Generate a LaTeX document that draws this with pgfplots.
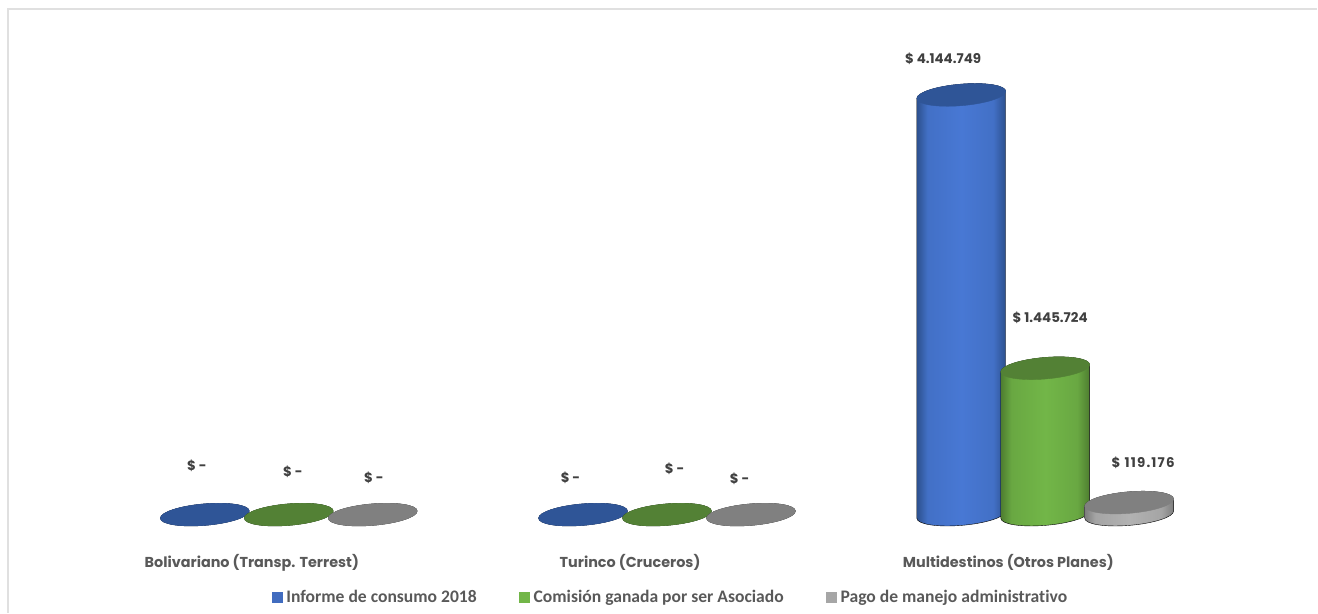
\documentclass[border=0pt]{standalone}
\usepackage{fontspec}
\usepackage{pgfplots}
\pgfplotsset{compat=1.18}
\newfontfamily\geofont{Poppins}
\newfontfamily\legfont{Carlito}[Ligatures=NoCommon]

\definecolor{blueedge}{RGB}{44,80,142}
\definecolor{bluemid}{RGB}{72,120,212}
\definecolor{bluetop}{RGB}{47,85,151}
\definecolor{greenedge}{RGB}{78,125,48}
\definecolor{greenmid}{RGB}{114,182,72}
\definecolor{greentop}{RGB}{83,129,53}
\definecolor{grayedge}{RGB}{125,125,125}
\definecolor{graymid}{RGB}{178,178,178}
\definecolor{graytop}{RGB}{128,128,128}
\definecolor{labeltext}{RGB}{64,64,64}
\definecolor{cattext}{RGB}{89,89,89}

% body shadings: dark only near the rims
\pgfdeclarehorizontalshading{cylblue}{100bp}{color(0bp)=(blueedge); color(25bp)=(blueedge);
  color(31bp)=(bluemid!80!blueedge); color(50bp)=(bluemid); color(68bp)=(bluemid!80!blueedge);
  color(75bp)=(blueedge); color(100bp)=(blueedge)}
\pgfdeclarehorizontalshading{cylgreen}{100bp}{color(0bp)=(greenedge); color(25bp)=(greenedge);
  color(31bp)=(greenmid!75!greenedge); color(50bp)=(greenmid); color(68bp)=(greenmid!75!greenedge);
  color(75bp)=(greenedge); color(100bp)=(greenedge)}
\pgfdeclarehorizontalshading{cylgray}{100bp}{color(0bp)=(grayedge); color(25bp)=(grayedge);
  color(31bp)=(graymid!75!grayedge); color(50bp)=(graymid); color(68bp)=(graymid!75!grayedge);
  color(75bp)=(grayedge); color(100bp)=(grayedge)}

% one cylinder, drawn from its data point (top centre) downwards
\newcommand{\cyl}[2]{%
  \begingroup
  \pgftransformcm{1}{0.08}{0}{1}{\pgfpointorigin}%
  \shade[shading=#1]
    (-44.5pt,0pt) -- (-44.5pt,-\cylh pt)
    arc[start angle=180,end angle=360,x radius=44.5pt,y radius=10.8pt]
    -- (44.5pt,0pt)
    arc[start angle=0,end angle=180,x radius=44.5pt,y radius=10.8pt] -- cycle;
  \fill[#2] (0pt,0pt) ellipse[x radius=44.5pt,y radius=10.8pt];
  \endgroup}

\begin{document}
\begin{tikzpicture}
\begin{axis}[
    scale only axis,
    width=1318pt, height=613pt,
    xmin=-0.7635, xmax=2.7186,
    ymin=-967064, ymax=5082020,
    clip=false,
    axis line style={draw=none},
    major tick style={draw=none},
    ytick=\empty,
    xtick={0,1,2},
    xticklabels={Bolivariano (Transp. Terrest),Turinco (Cruceros),Multidestinos (Otros Planes)},
    x tick label style={font=\geofont\bfseries\fontsize{14.4}{16}\selectfont,text=cattext,
        anchor=center,xshift=-37pt,yshift=50pt},
    only marks,
    scatter,
    mark=none,
    visualization depends on={rawy/9868 \as \cylh},
    scatter/@post marker code/.code={},
    legend columns=3,
    legend cell align=left,
    legend style={at={(rel axis cs:0.2065,0.0102)},anchor=south west,draw=none,fill=none,
        inner sep=0pt,outer sep=0pt,
        font=\legfont\bfseries\fontsize{17.6}{19}\selectfont,text=cattext,
        /tikz/every even column/.append style={column sep=40.5pt},
        /tikz/every odd column/.append style={column sep=2pt}},
]

\addplot[scatter/@pre marker code/.code={\cyl{cylblue}{bluetop}},
    legend image code/.code={\fill[bluemid!90!black] (0pt,-5pt) rectangle (10pt,5pt);}]
    coordinates {(-0.222,0) (0.778,0) (1.778,4144749)};
\addlegendentry{Informe de consumo 2018}

\addplot[scatter/@pre marker code/.code={\cyl{cylgreen}{greentop}},
    legend image code/.code={\fill[greenmid] (0pt,-5pt) rectangle (10pt,5pt);}]
    coordinates {(0,0) (1,0) (2,1445724)};
\addlegendentry{Comisión ganada por ser Asociado}

\addplot[scatter/@pre marker code/.code={\cyl{cylgray}{graytop}},
    legend image code/.code={\fill[gray!70] (0pt,-5pt) rectangle (10pt,5pt);}]
    coordinates {(0.222,0) (1.222,0) (2.222,119176)};
\addlegendentry{Pago de manejo administrativo}

\begin{scope}[every node/.style={font=\geofont\bfseries\fontsize{13.4}{15}\selectfont,text=labeltext}]
\node at (axis cs:-0.243,483532) {\$ -};
\node at (axis cs:0.011,424324) {\$ -};
\node at (axis cs:0.225,365116) {\$ -};
\node at (axis cs:0.745,365116) {\$ -};
\node at (axis cs:1.020,453928) {\$ -};
\node at (axis cs:1.192,355248) {\$ -};
\node at (axis cs:1.730,4499808) {\$ 4.144.749};
\node at (axis cs:2.013,1943864) {\$ 1.445.724};
\node at (axis cs:2.259,513136) {\addfontfeature{LetterSpace=9}\$ 119.176};
\end{scope}

\draw[black!12,line width=2pt] (rel axis cs:0.0061,0) -- (rel axis cs:0.0061,0.985) -- (rel axis cs:1,0.985);
\end{axis}
\end{tikzpicture}
\end{document}
